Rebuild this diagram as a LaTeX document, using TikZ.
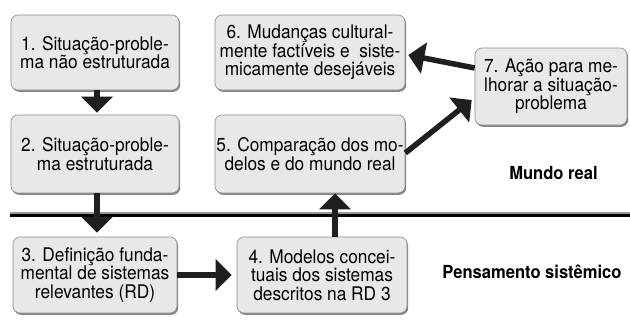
\documentclass[tikz,border=0pt]{standalone}
\usepackage{fontspec}
\setmainfont{TeX Gyre Heros}[FakeStretch=0.92]
\usetikzlibrary{arrows.meta,shadows}
\begin{document}
\begin{tikzpicture}[x=1pt,y=-1pt,
  box/.style={draw=black!45, line width=0.6pt, fill=black!9, rounded corners=7pt,
    align=center, inner sep=0pt, font=\fontsize{18.8}{18.5}\selectfont,
    drop shadow={shadow xshift=1.2pt, shadow yshift=-1.8pt, fill=black!60, opacity=0.8}},
  flow/.style={line width=5.5pt, draw=black!88, -{Triangle[width=31pt,length=16pt]}},
  lbl/.style={font=\bfseries\fontsize{18}{20}\selectfont, inner sep=0pt}]
\useasboundingbox (0,0) rectangle (630,327);
\fill[white] (0,0) rectangle (630,327);
% divider line
\coordinate (la) at (10,215);
\coordinate (lb) at (630,215);
\draw[black!40, line width=2pt] ([yshift=2.5pt]la) -- ([yshift=2.5pt]lb);
\draw[black, line width=3pt] (la) -- (lb);
% boxes
\node[box, minimum width=168pt, minimum height=75pt] (n1) at (95,52.5) {1. Situação-proble-\\ma não estruturada};
\node[box, minimum width=168pt, minimum height=78pt] (n2) at (95,154) {2. Situação-proble-\\ma estruturada};
\node[box, minimum width=164pt, minimum height=76pt] (n3) at (95,275) {3. Definição funda-\\mental de sistemas\\relevantes (RD)};
\node[box, minimum width=170pt, minimum height=76pt] (n4) at (322,275) {4. Modelos concei-\\tuais dos sistemas\\descritos na RD 3};
\node[box, minimum width=190pt, minimum height=78pt] (n5) at (310,154) {5. Comparação dos mo-\\delos e do mundo real};
\node[box, minimum width=190pt, minimum height=75pt] (n6) at (310,52.5) {6. Mudanças cultural-\\mente factíveis e \ siste-\\micamente desejáveis};
\node[box, minimum width=152pt, minimum height=77pt] (n7) at (551,86.5) {7. Ação para me-\\lhorar a situação-\\problema};
% labels
\node[lbl] (mr) at (553.5,173.5) {Mundo real};
\node[lbl] (ps) at (532,271.5) {Pensamento sistêmico};
% arrows
\draw[flow] ([xshift=2pt]n1.south) -- ([xshift=2pt,yshift=2pt]n2.north);
\draw[flow] ([xshift=2pt]n2.south) -- ([xshift=2pt,yshift=4pt]n3.north);
\draw[flow] (n3.east) -- ([xshift=-5pt]n4.west);
\draw[flow] ([xshift=13pt]n4.north) -- ([xshift=13pt]n4.north |- n5.south);
\draw[flow] ([yshift=1pt]n5.east) -- ([xshift=-3pt,yshift=-13.5pt]n7.west);
\draw[flow] ([yshift=18.5pt]n7.west) -- ([xshift=3pt,yshift=-2.5pt]n6.east);
\end{tikzpicture}
\end{document}
